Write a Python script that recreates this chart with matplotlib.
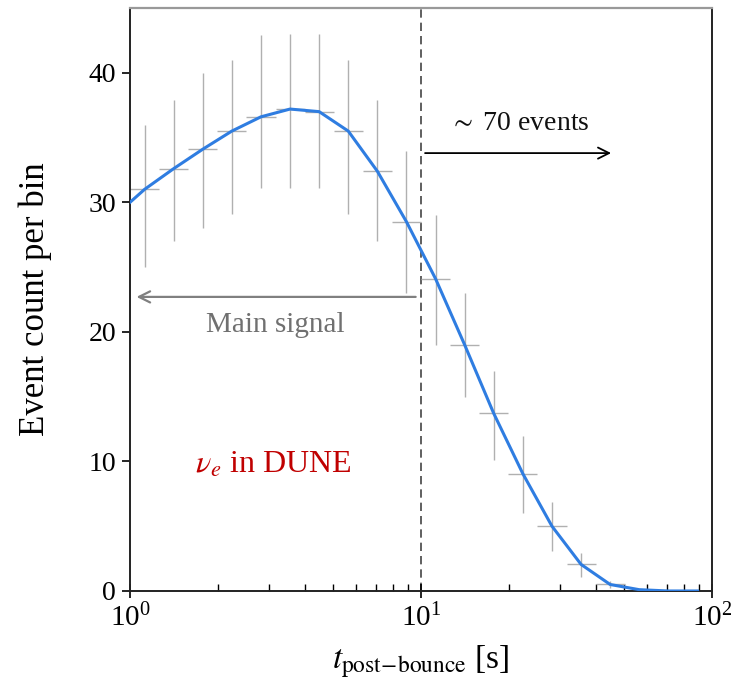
import numpy as np
import matplotlib
matplotlib.use("Agg")
import matplotlib.pyplot as plt

plt.rcParams['font.family'] = ['Liberation Serif', 'DejaVu Serif']
plt.rcParams['mathtext.fontset'] = 'stix'

# bin edges in log10 (0.1-decade bins from 1 s to 100 s)
bin_log_edges = np.arange(0, 2.01, 0.1)
counts = [31.0, 32.6, 34.1, 35.5, 36.6, 37.2, 37.0, 35.5, 32.4, 28.5,
          24.1, 19.0, 13.7, 9.05, 5.0, 2.05, 0.5, 0.1, 0.0, 0.0]
err_low = [6.0, 5.6, 6.1, 6.4, 5.5, 6.1, 5.9, 6.4, 5.4, 5.5,
           5.1, 4.0, 3.6, 3.0, 1.95, 1.0, 0.3, 0.0, 0.0, 0.0]
err_high = [5.0, 5.3, 5.9, 5.5, 6.3, 5.8, 6.0, 5.5, 5.5, 5.5,
            4.9, 4.0, 3.3, 2.9, 1.9, 0.9, 0.3, 0.0, 0.0, 0.0]
line_start = (1.0, 30.0)

lo = 10 ** bin_log_edges[:-1]
hi = 10 ** bin_log_edges[1:]
centers = np.sqrt(lo * hi)

fig = plt.figure(figsize=(7.32, 6.84), dpi=100)
ax = fig.add_axes([0.1776, 0.136, 0.7951, 0.8523])

n_err = 17
ax.errorbar(centers[:n_err], counts[:n_err],
            yerr=[err_low[:n_err], err_high[:n_err]],
            xerr=[centers[:n_err] - lo[:n_err], hi[:n_err] - centers[:n_err]],
            fmt='none', ecolor='#b0b0b0', elinewidth=1.0, capsize=0, zorder=2)

line_x = np.concatenate([[line_start[0]], centers])
line_y = np.concatenate([[line_start[1]], counts])
ax.plot(line_x, line_y, color='#2f7de1', lw=2.2, zorder=3)

ax.axvline(10, color='#444444', lw=1.2, ls=(0, (5, 3)), zorder=1)

ax.annotate('', xy=(46, 33.8), xytext=(10.1, 33.8),
            arrowprops=dict(arrowstyle='->', color='black', lw=1.3,
                            mutation_scale=20))
ax.text(21.8, 36.1, r'$\sim$ 70 events', fontsize=20, ha='center', va='center',
        color='#111111')

ax.annotate('', xy=(1.03, 22.7), xytext=(9.8, 22.7),
            arrowprops=dict(arrowstyle='->', color='#808080', lw=1.6,
                            mutation_scale=20))
ax.text(3.15, 20.5, 'Main signal', fontsize=21, ha='center', va='center',
        color='#707070')

ax.text(3.1, 9.7, r'$\nu_e$ in DUNE', fontsize=23, ha='center', va='center',
        color='#c00000')

ax.set_xscale('log')
ax.set_xlim(1, 100)
ax.set_ylim(0, 45)
ax.set_yticks([0, 10, 20, 30, 40])

ax.set_xlabel(r'$t_{\mathrm{post\!-\!bounce}}$ [s]', fontsize=24, labelpad=8)
ax.set_ylabel('Event count per bin', fontsize=25, labelpad=26)

ax.tick_params(axis='x', which='major', direction='inout', length=10,
               width=1.2, labelsize=21, pad=4)
ax.tick_params(axis='x', which='minor', direction='in', length=5, width=1.0)
ax.tick_params(axis='y', which='major', direction='out', length=6,
               width=1.2, labelsize=20, pad=4)

for side in ['left', 'right', 'bottom']:
    ax.spines[side].set_linewidth(1.4)
    ax.spines[side].set_color('#222222')
ax.spines['top'].set_color('#999999')
ax.spines['top'].set_linewidth(1.6)

fig.savefig('out.png', dpi=100)
